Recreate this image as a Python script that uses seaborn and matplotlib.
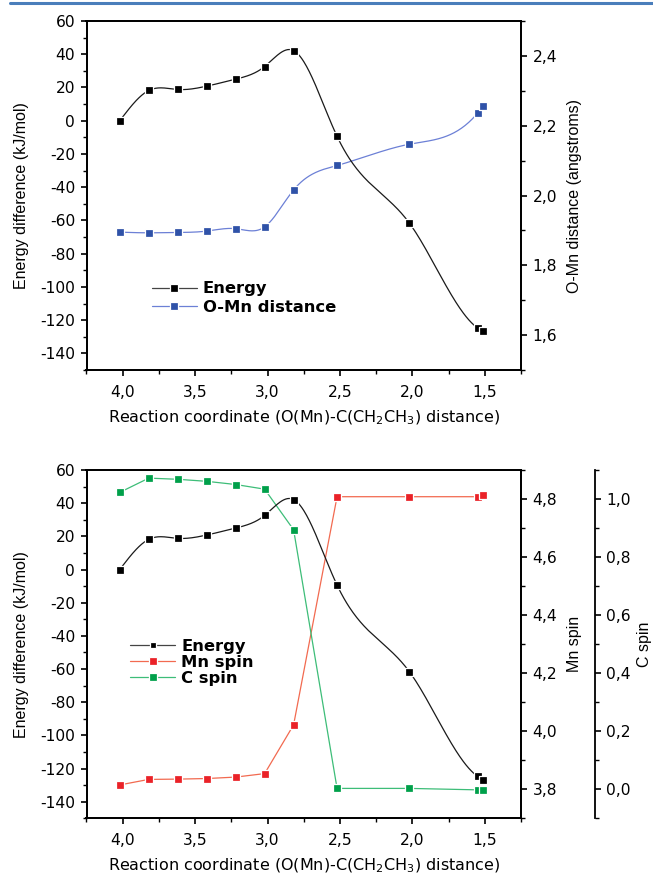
import numpy as np
import pandas as pd
import matplotlib
matplotlib.use("Agg")
import matplotlib.pyplot as plt
from matplotlib.lines import Line2D
from matplotlib.ticker import MultipleLocator, FuncFormatter
import seaborn as sns

# ---------------- data ----------------
coord = [4.02, 3.82, 3.62, 3.42, 3.22, 3.02, 2.82, 2.52, 2.02, 1.55, 1.51]
energy = [0.0, 18.2, 18.8, 20.8, 25.0, 32.6, 42.2, -9.4, -61.7, -124.7, -126.8]
omn_dist = [1.895, 1.893, 1.894, 1.898, 1.905, 1.910, 2.016, 2.086, 2.147, 2.236, 2.257]
mn_spin = [3.815, 3.834, 3.835, 3.837, 3.842, 3.854, 4.022, 4.808, 4.808, 4.808, 4.813]
c_spin = [1.023, 1.072, 1.068, 1.061, 1.050, 1.034, 0.894, 0.003, 0.003, -0.002, -0.002]

xlabel = "Reaction coordinate (O(Mn)-C(CH$_2$CH$_3$) distance)"
legend_top = ["Energy", "O-Mn distance"]
legend_bottom = ["Energy", "Mn spin", "C spin"]

# ---------------- style ----------------
sns.set_style("ticks")
plt.rcParams["font.family"] = ["DejaVu Sans"]
plt.rcParams["mathtext.default"] = "regular"
plt.rcParams["axes.linewidth"] = 1.3
for k in ["text.color", "axes.labelcolor", "xtick.color", "ytick.color",
          "axes.edgecolor", "xtick.labelcolor", "ytick.labelcolor"]:
    plt.rcParams[k] = "black"

VFONT = ["Liberation Sans", "DejaVu Sans"]   # vertical axis titles

BLACK = "#000000"
BLUE_M = "#2f52a8"
BLUE_L = "#6c80d6"
RED_M = "#ea2228"
RED_L = "#f26a50"
GREEN_M = "#00a04a"
GREEN_L = "#3dbd78"

MS = 5.2
FS_TICK = 11.2
FS_XLAB = 11.5
FS_YLAB = 11.5
FS_LEG = 11.8


def spline_curve(x, y, n=400):
    """natural cubic spline through the data points (drawing style of the line)"""
    x = np.asarray(x, float)
    y = np.asarray(y, float)
    order = np.argsort(x)
    xs, ys = x[order], y[order]
    m = len(xs)
    h = np.diff(xs)
    A = np.zeros((m, m))
    b = np.zeros(m)
    A[0, 0] = 1
    A[-1, -1] = 1
    for i in range(1, m - 1):
        A[i, i - 1] = h[i - 1]
        A[i, i] = 2 * (h[i - 1] + h[i])
        A[i, i + 1] = h[i]
        b[i] = 6 * ((ys[i + 1] - ys[i]) / h[i] - (ys[i] - ys[i - 1]) / h[i - 1])
    M = np.linalg.solve(A, b)
    xx = np.linspace(xs[0], xs[-1], n)
    idx = np.clip(np.searchsorted(xs, xx) - 1, 0, m - 2)
    x0, x1 = xs[idx], xs[idx + 1]
    hh = x1 - x0
    t0 = x1 - xx
    t1 = xx - x0
    yy = (M[idx] * t0 ** 3 / (6 * hh) + M[idx + 1] * t1 ** 3 / (6 * hh)
          + (ys[idx] / hh - M[idx] * hh / 6) * t0
          + (ys[idx + 1] / hh - M[idx + 1] * hh / 6) * t1)
    return pd.DataFrame({"x": xx, "y": yy})


comma1 = FuncFormatter(lambda v, p: f"{v:.1f}".replace(".", ","))
intfmt = FuncFormatter(lambda v, p: f"{int(round(v))}")


def style_axis(ax):
    ax.tick_params(axis="both", which="major", direction="out", length=4.2,
                   width=1.2, labelsize=FS_TICK, pad=4, color="black",
                   labelcolor="black")
    ax.tick_params(axis="both", which="minor", direction="out", length=2.6,
                   width=1.0, color="black")
    ax.tick_params(axis="x", which="major", pad=6.5)
    for s in ax.spines.values():
        s.set_edgecolor("black")


def setup_main(ax):
    ax.set_xlim(4.25, 1.25)
    ax.set_ylim(-150, 60)
    ax.xaxis.set_major_locator(MultipleLocator(0.5))
    ax.xaxis.set_minor_locator(MultipleLocator(0.25))
    ax.yaxis.set_major_locator(MultipleLocator(20))
    ax.yaxis.set_minor_locator(MultipleLocator(10))
    ax.xaxis.set_major_formatter(comma1)
    ax.yaxis.set_major_formatter(intfmt)
    ax.tick_params(top=False, right=False, which="both")
    style_axis(ax)
    for s in ax.spines.values():
        s.set_visible(True)
        s.set_linewidth(1.3)


def label_main(ax):
    ax.set_xlabel(xlabel, fontsize=FS_XLAB, labelpad=6, color="black")
    ax.set_ylabel("Energy difference (kJ/mol)", fontsize=FS_YLAB,
                  labelpad=8, family=VFONT, color="black")


def plot_energy(ax):
    sns.lineplot(data=spline_curve(coord, energy), x="x", y="y", ax=ax,
                 color="#1a1a1a", lw=0.9, sort=False, estimator=None)
    sns.scatterplot(x=coord, y=energy, ax=ax, marker="s", s=MS ** 2,
                    color=BLACK, edgecolor="white", linewidth=0.9, zorder=5)


fig = plt.figure(figsize=(6.53, 8.74), dpi=100)

# journal header rule
fig.add_artist(Line2D([10 / 653, 1.0], [1 - 2.5 / 874] * 2, color="#4a7ebb",
                      lw=2.2, transform=fig.transFigure))

# ---------------- top panel ----------------
ax1 = fig.add_axes([86.5 / 653, 1 - 370 / 874, 434.5 / 653, 349 / 874])
setup_main(ax1)
ax1b = ax1.twinx()
ax1b.set_ylim(1.5, 2.5)
ax1b.yaxis.set_major_locator(MultipleLocator(0.2))
ax1b.yaxis.set_minor_locator(MultipleLocator(0.1))
ax1b.yaxis.set_major_formatter(comma1)
style_axis(ax1b)

sns.lineplot(data=spline_curve(coord, omn_dist), x="x", y="y", ax=ax1b,
             color=BLUE_L, lw=0.9, sort=False, estimator=None)
sns.scatterplot(x=coord, y=omn_dist, ax=ax1b, marker="s", s=MS ** 2,
                color=BLUE_M, edgecolor="white", linewidth=0.9, zorder=5)
ax1b.set_ylabel("O-Mn distance (angstroms)", fontsize=FS_YLAB, labelpad=7,
                family=VFONT, color="black")
plot_energy(ax1)
ax1.set_zorder(ax1b.get_zorder() + 1)
ax1.patch.set_visible(False)
label_main(ax1)

h1 = [Line2D([], [], color="#444444", lw=0.9, marker="s", ms=MS, mfc=BLACK,
             mec="white", mew=0.9),
      Line2D([], [], color=BLUE_L, lw=0.9, marker="s", ms=MS, mfc=BLUE_M,
             mec="white", mew=0.9)]
ax1.legend(h1, legend_top, loc="center left",
           bbox_to_anchor=(0.116, 0.206), frameon=False, handlelength=2.75,
           handletextpad=0.37, labelspacing=0.22,
           prop={"weight": "bold", "size": FS_LEG})

# ---------------- bottom panel ----------------
ax2 = fig.add_axes([86.5 / 653, 1 - 818.3 / 874, 434.5 / 653, 348.3 / 874])
setup_main(ax2)
ax2b = ax2.twinx()
ax2b.set_ylim(3.7, 4.9)
ax2b.yaxis.set_major_locator(MultipleLocator(0.2))
ax2b.yaxis.set_minor_locator(MultipleLocator(0.1))
ax2b.yaxis.set_major_formatter(comma1)
style_axis(ax2b)

ax2c = ax2.twinx()
ax2c.spines["right"].set_position(("axes", 1.1704))
ax2c.set_ylim(-0.1, 1.1)
ax2c.yaxis.set_major_locator(MultipleLocator(0.2))
ax2c.yaxis.set_minor_locator(MultipleLocator(0.1))
ax2c.yaxis.set_major_formatter(comma1)
style_axis(ax2c)
for sp in ["top", "bottom", "left"]:
    ax2c.spines[sp].set_visible(False)

sns.lineplot(x=coord, y=mn_spin, ax=ax2b, color=RED_L, lw=0.9, sort=False,
             estimator=None)
sns.scatterplot(x=coord, y=mn_spin, ax=ax2b, marker="s", s=MS ** 2,
                color=RED_M, edgecolor="white", linewidth=0.9, zorder=5)
sns.lineplot(x=coord, y=c_spin, ax=ax2c, color=GREEN_L, lw=0.9, sort=False,
             estimator=None)
sns.scatterplot(x=coord, y=c_spin, ax=ax2c, marker="s", s=MS ** 2,
                color=GREEN_M, edgecolor="white", linewidth=0.9, zorder=5)
ax2b.set_ylabel("Mn spin", fontsize=FS_YLAB, labelpad=7, family=VFONT,
                color="black")
ax2c.set_ylabel("C spin", fontsize=FS_YLAB, labelpad=4, family=VFONT,
                color="black")

plot_energy(ax2)
ax2.set_zorder(ax2c.get_zorder() + 1)
ax2.patch.set_visible(False)
label_main(ax2)

h2 = [Line2D([], [], color="#444444", lw=0.9, marker="s", ms=MS * 0.85,
             mfc=BLACK, mec="white", mew=0.9),
      Line2D([], [], color=RED_L, lw=0.9, marker="s", ms=MS, mfc=RED_M,
             mec="white", mew=0.9),
      Line2D([], [], color=GREEN_L, lw=0.9, marker="s", ms=MS, mfc=GREEN_M,
             mec="white", mew=0.9)]
ax2.legend(h2, legend_bottom, loc="center left",
           bbox_to_anchor=(0.067, 0.448), frameon=False, handlelength=2.75,
           handletextpad=0.37, labelspacing=0.05,
           prop={"weight": "bold", "size": FS_LEG})

fig.savefig("out.png", dpi=100)
